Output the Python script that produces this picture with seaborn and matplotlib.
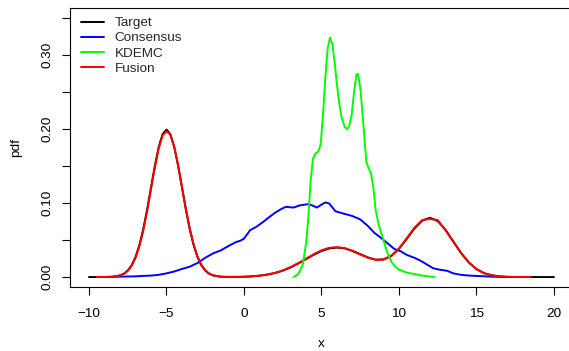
import matplotlib
matplotlib.use('Agg')
import matplotlib.pyplot as plt
import seaborn as sns

# --- values ---
target_x = [-10, -9.5, -9, -8.5, -8, -7.75, -7.5, -7.25, -7, -6.75, -6.5, -6.25, -6, -5.75, -5.5,
            -5.25, -5, -4.75, -4.5, -4.25, -4, -3.75, -3.5, -3.25, -3, -2.75, -2.5, -2.25, -2,
            -1.5, -1, -0.5, 0, 0.5, 1, 1.5, 2, 2.5, 3, 3.5, 4, 4.5, 5, 5.5, 6, 6.5, 7, 7.5, 8,
            8.5, 9, 9.5, 10, 10.5, 11, 11.5, 12, 12.5, 13, 13.5, 14, 14.5, 15, 15.5, 16, 16.5,
            17, 17.5, 18, 19, 20]
target_y = [0, 0, 0.0001, 0.0004, 0.0022, 0.0045, 0.0088, 0.0159, 0.0270, 0.0432, 0.0648, 0.0913,
            0.1210, 0.1506, 0.1760, 0.1934, 0.1995, 0.1934, 0.1760, 0.1506, 0.1210, 0.0913, 0.0648,
            0.0432, 0.0270, 0.0159, 0.0088, 0.0045, 0.0022, 0.0004, 0.0002, 0.0002, 0.0004, 0.0009,
            0.0018, 0.0032, 0.0054, 0.0086, 0.0130, 0.0183, 0.0242, 0.0301, 0.0352, 0.0387, 0.0399,
            0.0388, 0.0355, 0.0310, 0.0265, 0.0235, 0.0238, 0.0285, 0.0382, 0.0516, 0.0657, 0.0764,
            0.0802, 0.0757, 0.0640, 0.0484, 0.0328, 0.0199, 0.0108, 0.0052, 0.0023, 0.0009, 0.0003,
            0.0001, 0, 0, 0]

cons_x = [-9, -8, -7, -6, -5.5, -5, -4.5, -4, -3.5, -3, -2.5, -2, -1.5, -1, -0.5, -0.25, 0, 0.4,
          0.8, 1.2, 1.5, 2, 2.4, 2.7, 3.2, 3.6, 4.15, 4.4, 4.7, 5.0, 5.25, 5.5, 5.9, 6.4, 7.0, 7.5,
          8.0, 8.4, 8.9, 9.3, 9.7, 10.1, 10.5, 11.0, 11.4, 11.8, 12.2, 12.6, 13.1, 13.5, 14, 14.5,
          15.2, 16, 17]
cons_y = [0, 0.0005, 0.001, 0.002, 0.003, 0.005, 0.0075, 0.011, 0.014, 0.019, 0.026, 0.032, 0.036,
          0.042, 0.0475, 0.049, 0.052, 0.0635, 0.068, 0.074, 0.079, 0.087, 0.092, 0.095, 0.094,
          0.097, 0.0986, 0.097, 0.094, 0.098, 0.101, 0.0995, 0.089, 0.086, 0.0825, 0.078, 0.069,
          0.060, 0.052, 0.045, 0.038, 0.035, 0.030, 0.026, 0.022, 0.017, 0.012, 0.010, 0.0085,
          0.005, 0.003, 0.002, 0.0013, 0.0005, 0]

kde_x = [3.2, 3.5, 3.8, 4.0, 4.15, 4.3, 4.45, 4.6, 4.8, 4.95, 5.1, 5.25, 5.4, 5.55, 5.7, 5.85, 6.0,
         6.15, 6.3, 6.5, 6.65, 6.8, 6.95, 7.1, 7.25, 7.35, 7.5, 7.65, 7.8, 7.9, 8.05, 8.2, 8.35,
         8.5, 8.7, 9.0, 9.25, 9.5, 9.75, 10.0, 10.5, 11.0, 11.5, 12.0, 12.3]
kde_y = [0.0, 0.004, 0.017, 0.045, 0.08, 0.13, 0.16, 0.167, 0.170, 0.18, 0.22, 0.27, 0.31, 0.324,
         0.315, 0.29, 0.26, 0.235, 0.216, 0.203, 0.200, 0.205, 0.22, 0.25, 0.274, 0.275, 0.257,
         0.22, 0.18, 0.155, 0.147, 0.14, 0.12, 0.09, 0.07, 0.05, 0.033, 0.021, 0.014, 0.010,
         0.006, 0.004, 0.002, 0.0007, 0.0]

fusion_x = [-9.5, -9, -8.5, -8, -7.75, -7.5, -7.25, -7, -6.75, -6.5, -6.25, -6, -5.75, -5.5,
            -5.25, -5, -4.75, -4.5, -4.25, -4, -3.75, -3.5, -3.25, -3, -2.75, -2.5, -2.25, -2,
            -1.5, -1, -0.5, 0, 0.5, 1, 1.5, 2, 2.5, 3, 3.5, 4, 4.5, 5, 5.5, 6, 6.5, 7, 7.5, 8,
            8.5, 9, 9.5, 10, 10.5, 11, 11.5, 12, 12.5, 13, 13.5, 14, 14.5, 15, 15.5, 16, 16.5,
            17, 17.5, 18, 18.5]
fusion_y = [0, 0.0001, 0.0003, 0.0020, 0.0041, 0.0082, 0.0150, 0.0258, 0.0415, 0.0626, 0.0888,
            0.1185, 0.1483, 0.1742, 0.1916, 0.1972, 0.1926, 0.1762, 0.1514, 0.1222, 0.0926, 0.0660,
            0.0442, 0.0278, 0.0166, 0.0093, 0.0048, 0.0024, 0.0005, 0.0002, 0.0002, 0.0004, 0.0010,
            0.0019, 0.0034, 0.0056, 0.0089, 0.0135, 0.0188, 0.0247, 0.0310, 0.0362, 0.0396, 0.0404,
            0.0392, 0.0350, 0.0305, 0.0262, 0.0232, 0.0236, 0.0286, 0.0386, 0.0525, 0.0668, 0.0772,
            0.0786, 0.0772, 0.0632, 0.0478, 0.0325, 0.0197, 0.0106, 0.0050, 0.0022, 0.0008, 0.0003,
            0.0001, 0, 0]

x_ticks = [-10, -5, 0, 5, 10, 15, 20]
x_ticklabels = ['\u221210', '\u22125', '0', '5', '10', '15', '20']
y_ticks = [0, 0.05, 0.10, 0.15, 0.20, 0.25, 0.30, 0.35]
y_ticklabels = ['0.00', '', '0.10', '', '0.20', '', '0.30', '']

# name, x, y, colour, zorder (legend follows this list order)
series = [
    ('Target', target_x, target_y, 'black', 2),
    ('Consensus', cons_x, cons_y, '#0000ff', 3),
    ('KDEMC', kde_x, kde_y, '#00ff00', 5),
    ('Fusion', fusion_x, fusion_y, '#ff0000', 4),
]

sns.set_theme(style='ticks')
plt.rcParams['font.family'] = ['Liberation Sans', 'DejaVu Sans']

fig = plt.figure(figsize=(5.69, 3.51), dpi=100)
ax = fig.add_axes([0.1237, 0.1812, 0.8826, 0.796])

for name, xs, ys, color, z in series:
    sns.lineplot(x=xs, y=ys, color=color, linewidth=1.4, label=name, ax=ax,
                 estimator=None, sort=False, zorder=z)

ax.set_xlim(-11.2, 21.2)
ax.set_ylim(-0.014, 0.364)
ax.set_xticks(x_ticks)
ax.set_xticklabels(x_ticklabels)
ax.set_yticks(y_ticks)
ax.set_yticklabels(y_ticklabels, rotation=90, va='center')
ax.tick_params(direction='out', length=5.8, width=0.8, color='black', labelsize=9.7,
               labelcolor='black')
ax.tick_params(axis='x', pad=9)
ax.tick_params(axis='y', pad=6)
for sp in ax.spines.values():
    sp.set_visible(True)
    sp.set_color('black')
    sp.set_linewidth(0.8)

ax.set_xlabel('x', fontsize=9.7, labelpad=13, color='black')
ax.set_ylabel('pdf', fontsize=9.7, labelpad=14, color='black')

ax.legend(loc='upper left', bbox_to_anchor=(0.021, 0.968), frameon=False, fontsize=9.7,
          borderpad=0, borderaxespad=0, handlelength=1.7, handletextpad=0.8,
          labelspacing=0.2)

fig.savefig('out.png', dpi=100)
